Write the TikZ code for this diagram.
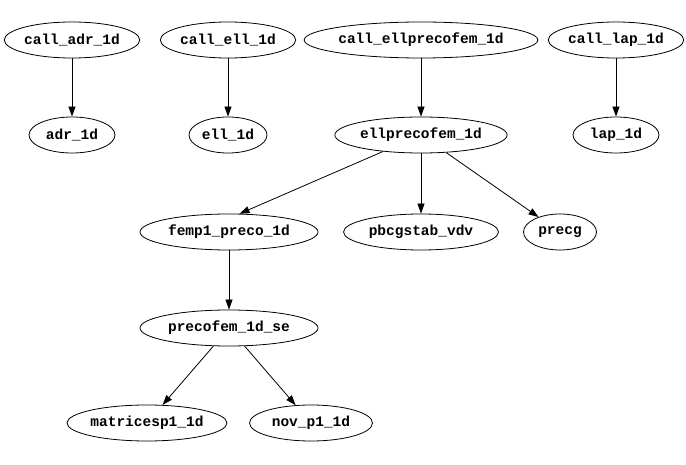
\documentclass[tikz,border=0pt]{standalone}
\usepackage{fontspec}
\setmonofont{Liberation Mono}
\usepackage{tikz}
\usetikzlibrary{arrows.meta,shapes.geometric}
\tikzset{
  fnnode/.style={draw, ellipse, inner sep=0pt, minimum height=36pt,
    minimum width=#1pt, font=\ttfamily\bfseries\fontsize{14.5}{16}\selectfont,
    line width=0.8pt},
  fnnode/.default={100},
  callarr/.style={-{Triangle[length=10pt,width=7pt]}, line width=0.8pt},
}

\begin{document}
\begin{tikzpicture}[x=1pt, y=-1pt]
  \useasboundingbox (0,0) rectangle (686,465);

  % top row: the callers
  \node[fnnode=131] (calladr) at (72,40) {call\_adr\_1d};
  \node[fnnode=124] (callell) at (228,40) {call\_ell\_1d};
  \node[fnnode=214] (callellpre) at (421,40) {call\_ellprecofem\_1d};
  \node[fnnode=130] (calllap) at (616,40) {call\_lap\_1d};

  % second row
  \node[fnnode=86] (adr) at (72,135) {adr\_1d};
  \node[fnnode=78] (ell) at (228,135) {ell\_1d};
  \node[fnnode=166] (ellpre) at (421,135) {ellprecofem\_1d};
  \node[fnnode=86] (lap) at (616,135) {lap\_1d};

  % third row
  \node[fnnode=178] (femp) at (229,232) {femp1\_preco\_1d};
  \node[fnnode=155] (pbcg) at (421,232) {pbcgstab\_vdv};
  \node[fnnode=73] (precg) at (560,232) {precg};

  \node[fnnode=178] (precose) at (229,328) {precofem\_1d\_se};

  \node[fnnode=155] (matp1) at (147,423) {matricesp1\_1d};
  \node[fnnode=123] (novp1) at (311,423) {nov\_p1\_1d};

  \draw[callarr] (calladr) -- (adr);
  \draw[callarr] (callell) -- (ell);
  \draw[callarr] (callellpre) -- (ellpre);
  \draw[callarr] (calllap) -- (lap);
  \draw[callarr] (ellpre) -- (femp.60);
  \draw[callarr] (ellpre) -- (pbcg);
  \draw[callarr] (ellpre) -- (precg);
  \draw[callarr] (femp) -- (precose);
  \draw[callarr] (precose) -- (matp1);
  \draw[callarr] (precose) -- (novp1);
\end{tikzpicture}
\end{document}
